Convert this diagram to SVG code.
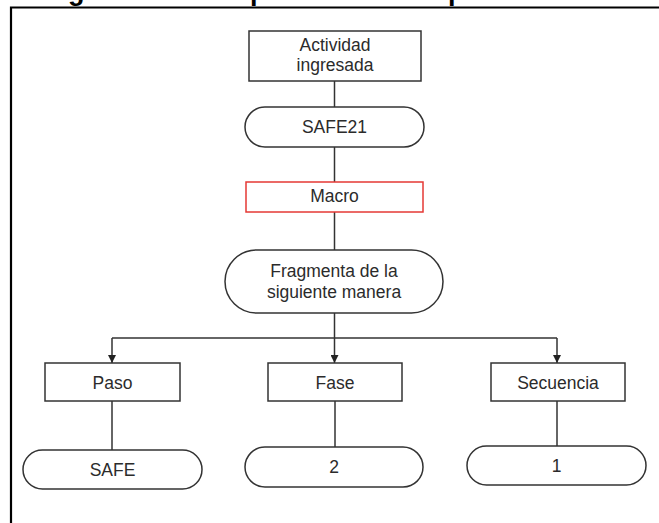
<svg xmlns="http://www.w3.org/2000/svg" width="659" height="523" viewBox="0 0 659 523">
  <style>
    .box { fill: #ffffff; stroke: #333333; stroke-width: 1.5; }
    .macro { fill: #ffffff; stroke: #e53935; stroke-width: 1.5; }
    .lbl { font-family: "Liberation Sans", Arial, sans-serif; font-size: 17.5px; fill: #2b2b2b; text-anchor: middle; }
    .link { fill: none; stroke: #333333; stroke-width: 1.5; }
    .title { font-family: "Liberation Sans", Arial, sans-serif; font-size: 27px; font-weight: bold; fill: #000000; }
  </style>
  <defs>
    <marker id="arrow" viewBox="0 0 10 10" refX="10" refY="5" markerWidth="8" markerHeight="8" markerUnits="userSpaceOnUse" orient="auto">
      <path d="M0,0 L10,5 L0,10 Z" fill="#222222"/>
    </marker>
  </defs>

  <rect width="659" height="523" fill="#ffffff"/>

  <!-- heading, mostly above the top edge -->
  <text class="title" y="-0.5"><tspan x="26">Diagrama</tspan><tspan x="157">del</tspan><tspan x="250">proceso</tspan><tspan x="380">de</tspan><tspan x="418">separación</tspan></text>

  <!-- frame -->
  <path d="M11,523 V7.5 H659" fill="none" stroke="#000000" stroke-width="2.2"/>

  <g id="connectors">
    <line class="link" x1="334.5" y1="81" x2="334.5" y2="107"/>
    <line class="link" x1="334.5" y1="147" x2="334.5" y2="182"/>
    <line class="link" x1="334.5" y1="212" x2="334.5" y2="250"/>
    <line class="link" x1="334.5" y1="313" x2="334.5" y2="338"/>
    <line class="link" x1="112" y1="338" x2="557" y2="338"/>
    <line class="link" x1="112" y1="338" x2="112" y2="363" marker-end="url(#arrow)"/>
    <line class="link" x1="334.5" y1="338" x2="334.5" y2="363" marker-end="url(#arrow)"/>
    <line class="link" x1="557" y1="338" x2="557" y2="363" marker-end="url(#arrow)"/>
    <line class="link" x1="112" y1="401" x2="112" y2="450"/>
    <line class="link" x1="335" y1="401" x2="335" y2="447"/>
    <line class="link" x1="557" y1="401" x2="557" y2="446"/>
  </g>

  <g id="actividad">
    <rect class="box" x="249" y="31" width="172" height="50"/>
    <text class="lbl" x="335" y="50.5">Actividad</text>
    <text class="lbl" x="335" y="71">ingresada</text>
  </g>

  <g id="safe21">
    <rect class="box" x="245" y="107" width="179" height="40" rx="20" ry="20"/>
    <text class="lbl" x="334.5" y="133">SAFE21</text>
  </g>

  <g id="macro">
    <rect class="macro" x="246" y="182" width="177" height="30"/>
    <text class="lbl" x="334.5" y="201.5">Macro</text>
  </g>

  <g id="fragmenta">
    <rect class="box" x="225" y="250" width="218" height="63" rx="31.5" ry="31.5"/>
    <text class="lbl" x="334" y="277">Fragmenta de la</text>
    <text class="lbl" x="334" y="298">siguiente manera</text>
  </g>

  <g id="paso">
    <rect class="box" x="45" y="363" width="135" height="38"/>
    <text class="lbl" x="112.5" y="388.5">Paso</text>
  </g>

  <g id="fase">
    <rect class="box" x="268" y="363" width="134" height="38"/>
    <text class="lbl" x="335" y="388.5">Fase</text>
  </g>

  <g id="secuencia">
    <rect class="box" x="491" y="363" width="134" height="38"/>
    <text class="lbl" x="558" y="388.5">Secuencia</text>
  </g>

  <g id="valor-paso">
    <rect class="box" x="23" y="450" width="179" height="39" rx="19.5" ry="19.5"/>
    <text class="lbl" x="112.5" y="475.5">SAFE</text>
  </g>

  <g id="valor-fase">
    <rect class="box" x="245" y="447" width="178" height="40" rx="20" ry="20"/>
    <text class="lbl" x="334" y="473">2</text>
  </g>

  <g id="valor-secuencia">
    <rect class="box" x="467" y="446" width="179" height="39" rx="19.5" ry="19.5"/>
    <text class="lbl" x="556.5" y="471.5">1</text>
  </g>
</svg>
